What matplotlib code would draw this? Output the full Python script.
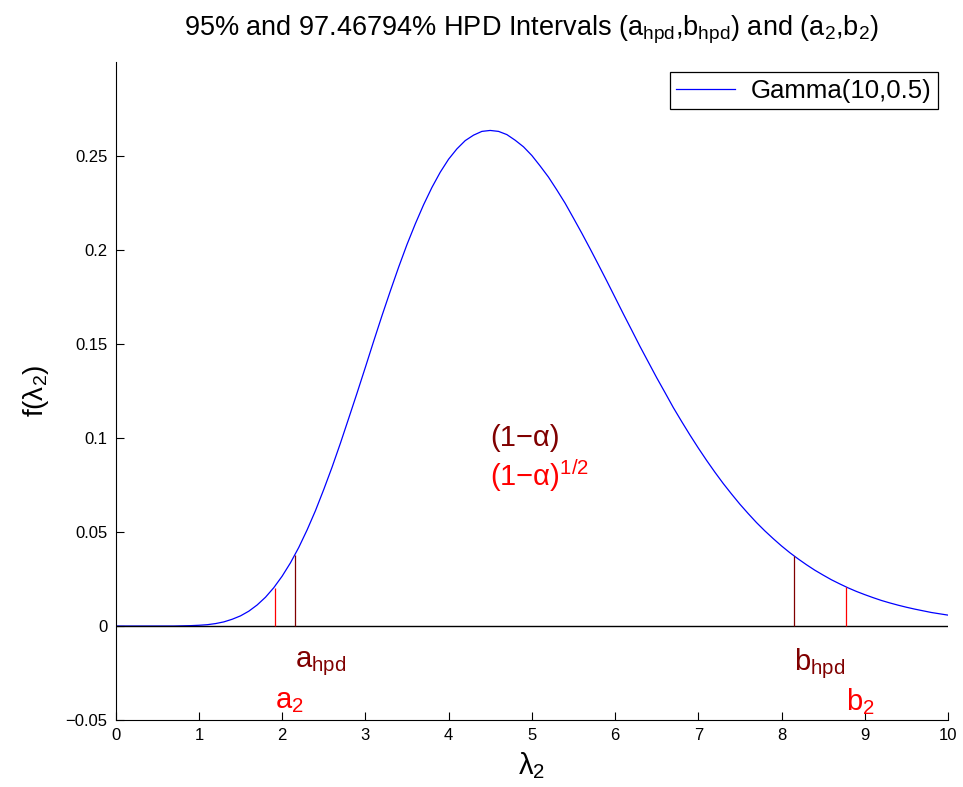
import numpy as np
import matplotlib
matplotlib.use("Agg")
import matplotlib.pyplot as plt

plt.rcParams['font.family'] = ['Liberation Sans', 'DejaVu Sans']
plt.rcParams['mathtext.fontset'] = 'custom'
plt.rcParams['mathtext.rm'] = 'Liberation Sans'
plt.rcParams['mathtext.it'] = 'Liberation Sans'
plt.rcParams['mathtext.default'] = 'regular'

# density curve, lambda_2 = 0, 0.1, ..., 10
lam = np.arange(101) * 0.1
dens = [0.0, 0.0, 0.0, 0.0, 0.0, 0.0, 0.0, 0.0, 0.0001, 0.0002,
        0.0004, 0.0007, 0.0013, 0.0022, 0.0036, 0.0054, 0.0079, 0.0112, 0.0153, 0.0204,
        0.0265, 0.0336, 0.0418, 0.0511, 0.0613, 0.0726, 0.0845, 0.0972, 0.1105, 0.1239,
        0.1376, 0.1515, 0.1651, 0.1782, 0.1909, 0.2029, 0.2139, 0.2241, 0.2333, 0.2414,
        0.2483, 0.2538, 0.2582, 0.2611, 0.2631, 0.2636, 0.2631, 0.2614, 0.2584, 0.2549,
        0.2503, 0.2447, 0.2388, 0.2320, 0.2249, 0.2170, 0.2090, 0.2007, 0.1922, 0.1836,
        0.1748, 0.1660, 0.1574, 0.1487, 0.1404, 0.1321, 0.1242, 0.1162, 0.1088, 0.1016,
        0.0947, 0.0881, 0.0818, 0.0758, 0.0702, 0.0648, 0.0598, 0.0550, 0.0506, 0.0465,
        0.0426, 0.0390, 0.0357, 0.0326, 0.0297, 0.0271, 0.0246, 0.0224, 0.0203, 0.0184,
        0.0167, 0.0151, 0.0136, 0.0123, 0.0111, 0.0100, 0.0090, 0.0081, 0.0072, 0.0065,
        0.0058]

# interval end points and the density at each
hpd_x = [2.15, 8.15]
hpd_top = [0.0377, 0.0374]
two_x = [1.91, 8.78]
two_top = [0.0204, 0.0205]

yticks = [-0.05, 0, 0.05, 0.1, 0.15, 0.2, 0.25]
ytick_labels = ['\u22120.05', '0', '0.05', '0.1', '0.15', '0.2', '0.25']

dark = '#800000'
red = '#ff0000'

fig = plt.figure(figsize=(9.63, 7.87), dpi=100)
ax = fig.add_axes([0.1201, 0.0851, 0.8643, 0.8361])

ax.plot(lam, dens, color='#0000ff', lw=0.9, label='Gamma(10,0.5)')
ax.plot([0, 10], [0, 0], color='black', lw=1.0)
ax.vlines(hpd_x, 0, hpd_top, color=dark, lw=0.9)
ax.vlines(two_x, 0, two_top, color=red, lw=0.9)

fs = 21
ax.text(hpd_x[0], -0.02, 'a$_{hpd}$', color=dark, fontsize=fs, va='center', ha='left')
ax.text(hpd_x[1], -0.02, 'b$_{hpd}$', color=dark, fontsize=fs, va='center', ha='left')
ax.text(two_x[0], -0.04, 'a$_{2}$', color=red, fontsize=fs, va='center', ha='left')
ax.text(two_x[1], -0.04, 'b$_{2}$', color=red, fontsize=fs, va='center', ha='left')
ax.text(4.5, 0.1, '(1\u2212\u03b1)', color=dark, fontsize=fs, va='center', ha='left')
ax.text(4.5, 0.08, '(1\u2212\u03b1)$^{1/2}$', color=red, fontsize=fs, va='center', ha='left')

ax.set_xlim(0, 10)
ax.set_ylim(-0.05, 0.3)
ax.set_xticks(range(11))
ax.set_yticks(yticks)
ax.set_yticklabels(ytick_labels)
ax.tick_params(direction='in', length=6, labelsize=12, pad=6)
ax.spines['top'].set_visible(False)
ax.spines['right'].set_visible(False)

ax.set_xlabel('\u03bb$_2$', fontsize=21, labelpad=5)
ax.set_ylabel('f(\u03bb$_2$)', fontsize=20, labelpad=10)
ax.set_title('95% and 97.46794% HPD Intervals (a$_{hpd}$,b$_{hpd}$) and (a$_2$,b$_2$)',
             fontsize=19.5, pad=19)

leg = ax.legend(loc='upper right', fontsize=18.5, fancybox=False, framealpha=1,
                edgecolor='black', handlelength=2.3, borderaxespad=0.4,
                borderpad=0.25, handletextpad=0.6)
leg.get_frame().set_linewidth(0.9)

fig.savefig('out.png', dpi=100)
